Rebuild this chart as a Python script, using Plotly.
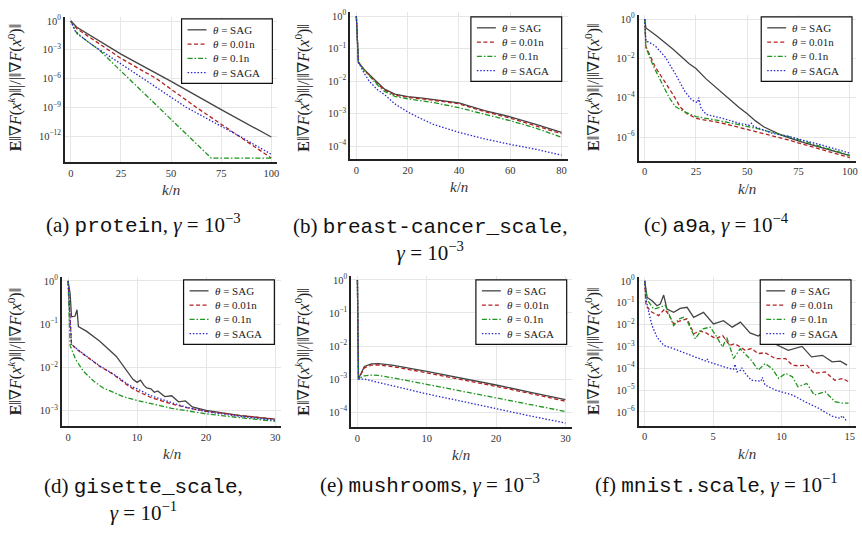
import plotly.graph_objects as go

W, H = 862, 534

SERIES = ["<i>θ</i> = SAG", "<i>θ</i> = 0.01n", "<i>θ</i> = 0.1n", "<i>θ</i> = SAGA"]
COLORS = ["#444444", "#b22222", "#1f961f", "#2b2bcc"]
DASHES = ["solid", "4px,2.5px", "5px,2px,1.5px,2px", "1.5px,1.8px"]

# ---------------- data (log10 of E||grad F(x^k)|| / ||grad F(x^0)||) ----------------
# (a) protein
a_sag_x = [0, 3, 25, 50, 75, 100]
a_sag_y = [0, -0.65, -3.45, -6.3, -9.25, -12.1]
a_r_x = [0, 3, 25, 42.6, 62.5, 84, 100]
a_r_y = [0, -0.8, -3.9, -6.0, -9.0, -12.0, -14.3]
a_g_x = [0, 3, 14, 29, 44, 59, 70, 100]
a_g_y = [0, -1.3, -3.0, -6.0, -9.0, -12.0, -14.3, -14.3]
a_b_x = [0, 2, 4.5, 10, 36, 57.5, 84, 100]
a_b_y = [0, -1.0, -1.5, -2.4, -6.0, -9.0, -12.0, -13.9]

# (b) breast-cancer_scale
b_x = [0, 0.8, 3, 5, 8, 11, 15, 20, 25, 30, 40, 50, 60, 70, 80]
b_sag = [0, -1.42, -1.64, -1.8, -2.04, -2.25, -2.4, -2.48, -2.52, -2.57, -2.67, -2.91, -3.1, -3.33, -3.58]
b_r = [0, -1.42, -1.65, -1.82, -2.07, -2.28, -2.43, -2.5, -2.54, -2.59, -2.7, -2.94, -3.14, -3.37, -3.62]
b_g = [0, -1.42, -1.66, -1.84, -2.1, -2.32, -2.47, -2.55, -2.6, -2.66, -2.82, -3.02, -3.22, -3.45, -3.73]
b_b = [0, -1.42, -1.75, -2.0, -2.25, -2.42, -2.7, -2.95, -3.15, -3.33, -3.58, -3.78, -3.95, -4.1, -4.28]

# (c) a9a
c_sag_x = [0, 0.6, 5.6, 13.7, 21.7, 25, 29.8, 37.9, 46, 50, 54, 58, 62, 66, 70, 78, 100]
c_sag_y = [0, -0.45, -0.84, -1.52, -2.27, -2.52, -3.03, -3.79, -4.5, -4.82, -5.18, -5.48, -5.7, -5.88, -6.03, -6.3, -6.95]
c_r_x = [0, 0.6, 5.1, 10, 14, 17.2, 20.4, 25, 38, 54, 70, 100]
c_r_y = [0, -1.4, -2.43, -3.2, -3.87, -4.46, -4.8, -5.05, -5.3, -5.72, -6.15, -7.05]
c_g_x = [0, 0.6, 4.4, 8.4, 11.7, 14.9, 19, 25, 38, 54, 70, 100]
c_g_y = [0, -1.45, -2.43, -3.28, -3.95, -4.45, -4.7, -4.96, -5.2, -5.55, -5.97, -6.93]
c_b_x = [0, 0.6, 5, 10, 14.9, 19.7, 23, 25.8, 26.3, 27.5, 30, 38, 46, 51, 52, 53, 62, 70, 86, 100]
c_b_y = [0, -1.1, -1.35, -1.93, -2.78, -3.7, -4.12, -4.25, -4.0, -4.55, -4.85, -5.05, -5.3, -5.4, -5.3, -5.45, -5.8, -5.97, -6.4, -6.82]

# (d) gisette_scale
d_sag_x = [0, 0.3, 0.5, 1.0, 1.3, 1.5, 2.7, 4.6, 7.0, 9.4, 10, 10.5, 11, 11.4, 12, 12.5, 13, 14, 15, 16, 17, 18, 20, 22, 25, 28, 30]
d_sag_y = [0, -0.3, -0.83, -0.82, -0.67, -1.06, -1.17, -1.4, -1.75, -2.28, -2.35, -2.3, -2.42, -2.48, -2.5, -2.58, -2.55, -2.68, -2.66, -2.8, -2.78, -2.92, -3.0, -3.05, -3.12, -3.17, -3.2]
d_rb_x = [0, 0.3, 0.5, 1.3, 3.2, 4.6, 6.5, 8.9, 10, 12, 15, 17, 20, 25, 30]
d_r_y = [0, -0.98, -1.47, -1.59, -1.82, -1.98, -2.16, -2.45, -2.55, -2.7, -2.85, -2.93, -3.02, -3.12, -3.2]
d_b_y = [0, -0.98, -1.47, -1.58, -1.8, -1.97, -2.15, -2.42, -2.5, -2.66, -2.82, -2.92, -3.03, -3.14, -3.23]
d_g_x = [0, 0.3, 1.1, 2.2, 3.7, 5.1, 8, 10, 15, 20, 25, 30]
d_g_y = [0, -1.5, -1.82, -2.09, -2.32, -2.48, -2.68, -2.77, -2.95, -3.08, -3.17, -3.25]

# (e) mushrooms
e_x = [0, 0.15, 1, 2, 3, 5, 10, 15, 20, 25, 30]
e_sag = [0, -3.0, -2.62, -2.54, -2.53, -2.58, -2.77, -2.97, -3.18, -3.4, -3.62]
e_r = [0, -3.0, -2.66, -2.58, -2.57, -2.62, -2.81, -3.01, -3.22, -3.44, -3.67]
e_g = [0, -3.0, -2.9, -2.88, -2.89, -2.96, -3.16, -3.37, -3.58, -3.79, -3.98]
e_b = [0, -3.0, -3.0, -3.05, -3.1, -3.2, -3.45, -3.67, -3.9, -4.12, -4.33]

# (f) mnist.scale
f_sag_x = [0, 0.18, 0.54, 0.9, 1.14, 1.39, 1.63, 2.12, 2.6, 3.1, 3.58, 4.3, 5.03, 5.76, 6.4, 7.0, 7.7, 8.3, 8.8, 9.5, 10.5, 11.5, 12.2, 13.0, 13.7, 14.3, 14.8]
f_sag_y = [0, -0.76, -0.91, -1.14, -1.06, -0.65, -1.29, -1.44, -1.26, -1.21, -1.67, -1.44, -1.97, -1.82, -2.12, -1.89, -2.38, -2.53, -2.3, -2.88, -3.18, -3.0, -3.48, -3.41, -3.71, -3.68, -3.86]
f_r_x = [0, 0.1, 0.54, 1.02, 1.46, 1.8, 2.12, 2.5, 3.1, 3.6, 4.0, 4.4, 5.2, 5.7, 6.2, 6.6, 7.35, 7.8, 8.3, 8.8, 9.55, 10.3, 10.8, 11.2, 11.85, 12.4, 13.2, 13.9, 14.5, 14.9]
f_r_y = [0, -1.14, -1.44, -1.59, -1.29, -1.59, -1.97, -1.85, -1.74, -2.42, -2.3, -2.35, -2.65, -2.5, -2.95, -2.88, -3.18, -3.1, -3.33, -3.29, -3.56, -3.56, -3.86, -3.89, -3.86, -4.24, -4.17, -4.55, -4.47, -4.62]
f_g_x = [0, 0.18, 0.66, 1.14, 1.5, 2.12, 2.5, 2.85, 3.1, 3.7, 4.2, 4.8, 5.2, 5.7, 6.0, 6.3, 6.5, 6.98, 7.35, 7.8, 8.3, 8.8, 9.3, 9.8, 10.3, 10.8, 11.2, 11.85, 12.4, 13.2, 13.9, 14.4, 14.9]
f_g_y = [0, -0.86, -1.29, -1.21, -1.11, -2.05, -1.74, -1.67, -1.82, -2.65, -2.2, -2.12, -2.5, -3.03, -2.58, -3.2, -3.56, -3.11, -3.33, -3.64, -4.09, -3.79, -4.0, -4.47, -4.24, -4.39, -4.85, -4.7, -5.23, -5.08, -5.53, -5.6, -5.6]
f_b_x = [0, 0.1, 0.3, 0.54, 0.9, 1.39, 2.12, 2.97, 4.0, 4.5, 4.6, 4.67, 5.4, 6.1, 6.5, 6.6, 6.75, 7.0, 7.1, 7.35, 7.8, 8.5, 8.6, 8.8, 9.55, 10.8, 11.7, 12.7, 13.7, 14.3, 14.45, 14.8]
f_b_y = [0, -0.83, -1.44, -2.05, -2.58, -2.95, -3.11, -3.33, -3.56, -3.68, -3.58, -3.71, -3.86, -4.0, -4.05, -3.82, -4.17, -4.1, -3.98, -4.24, -4.55, -4.6, -4.42, -4.77, -5.0, -5.23, -5.53, -5.83, -6.2, -6.3, -6.18, -6.45]

# tick labels
a_xticks = [0, 25, 50, 75, 100]
b_xticks = [0, 20, 40, 60, 80]
d_xticks = [0, 10, 20, 30]
f_xticks = [0, 5, 10, 15]
a_yexp = [0, -3, -6, -9, -12]
b_yexp = [0, -1, -2, -3, -4]
c_yexp = [0, -2, -4, -6]
d_yexp = [0, -1, -2, -3]
f_yexp = [0, -1, -2, -3, -4, -5, -6]

MONO = "Liberation Mono, DejaVu Sans Mono, monospace"
captions = [
    f"(a) <span style='font-family:{MONO}'>protein</span>, <i>γ</i> = 10<sup>−3</sup>",
    f"(b) <span style='font-family:{MONO}'>breast-cancer_scale</span>,<br><i>γ</i> = 10<sup>−3</sup>",
    f"(c) <span style='font-family:{MONO}'>a9a</span>, <i>γ</i> = 10<sup>−4</sup>",
    f"(d) <span style='font-family:{MONO}'>gisette_scale</span>,<br><i>γ</i> = 10<sup>−1</sup>",
    f"(e) <span style='font-family:{MONO}'>mushrooms</span>, <i>γ</i> = 10<sup>−3</sup>",
    f"(f) <span style='font-family:{MONO}'>mnist.scale</span>, <i>γ</i> = 10<sup>−1</sup>",
]

panels = [
    dict(series=[(a_sag_x, a_sag_y), (a_r_x, a_r_y), (a_g_x, a_g_y), (a_b_x, a_b_y)],
         xd=(65, 278), yd=(13, 159.4), xr=(-3, 103), yr=(-14.73, 0.43), xt=a_xticks, ye=a_yexp,
         leg=(273, 15), ylab=(15, 84), cap=(144, 222)),
    dict(series=[(b_x, b_sag), (b_x, b_r), (b_x, b_g), (b_x, b_b)],
         xd=(351, 569), yd=(8, 156.5), xr=(-2.4, 82.4), yr=(-4.41, 0.13), xt=b_xticks, ye=b_yexp,
         leg=(563, 13), ylab=(303, 84), cap=(431, 222)),
    dict(series=[(c_sag_x, c_sag_y), (c_r_x, c_r_y), (c_g_x, c_g_y), (c_b_x, c_b_y)],
         xd=(640, 858), yd=(11, 158), xr=(-3, 103), yr=(-7.21, 0.21), xt=a_xticks, ye=c_yexp,
         leg=(854, 13), ylab=(594, 84), cap=(718, 222)),
    dict(series=[(d_sag_x, d_sag_y), (d_rb_x, d_r_y), (d_g_x, d_g_y), (d_rb_x, d_b_y)],
         xd=(62, 282), yd=(274.6, 425.6), xr=(-0.9, 30.9), yr=(-3.37, 0.1), xt=d_xticks, ye=d_yexp,
         leg=(275, 278), ylab=(15, 350), cap=(144, 484)),
    dict(series=[(e_x, e_sag), (e_x, e_r), (e_x, e_g), (e_x, e_b)],
         xd=(352, 573), yd=(273.7, 426.5), xr=(-0.9, 30.9), yr=(-4.46, 0.13), xt=d_xticks, ye=b_yexp,
         leg=(568, 278), ylab=(303, 350), cap=(431, 484)),
    dict(series=[(f_sag_x, f_sag_y), (f_r_x, f_r_y), (f_g_x, f_g_y), (f_b_x, f_b_y)],
         xd=(640, 858), yd=(274.8, 425), xr=(-0.45, 15.45), yr=(-6.64, 0.19), xt=f_xticks, ye=f_yexp,
         leg=(853, 278), ylab=(594, 350), cap=(718, 484)),
]

SERIF = "Liberation Serif, Times New Roman, Times, DejaVu Serif, serif"
fig = go.Figure()
layout = dict(width=W, height=H, margin=dict(l=0, r=0, t=0, b=0),
              paper_bgcolor="white", plot_bgcolor="white", showlegend=False,
              font=dict(family=SERIF, color="#222"))
annotations = []
shapes = []

ylabel = "<b>E</b>‖∇<i>F</i>(<i>x</i><sup><i>k</i></sup>)‖|/|‖∇<i>F</i>(<i>x</i><sup>0</sup>)‖"
LEG_W, LEG_H, ROW0, ROWH = 91, 65, 11, 14.4

for i, p in enumerate(panels):
    n = i + 1
    sx = "" if n == 1 else str(n)
    for k, (xs, ys) in enumerate(p["series"]):
        fig.add_trace(go.Scatter(
            x=xs, y=[10 ** v for v in ys], mode="lines", name=SERIES[k],
            line=dict(color=COLORS[k], width=1.3, dash=DASHES[k]),
            xaxis=f"x{sx}", yaxis=f"y{sx}", showlegend=False))
    layout[f"xaxis{sx}"] = dict(
        domain=[p["xd"][0] / W, p["xd"][1] / W], range=list(p["xr"]), anchor=f"y{sx}",
        showline=True, linecolor="#222", linewidth=1.6, mirror=False,
        showgrid=True, gridcolor="#e6e6e6", gridwidth=1, zeroline=False,
        tickmode="array", tickvals=p["xt"], ticktext=[str(t) for t in p["xt"]],
        ticks="", tickfont=dict(size=10.5, family=SERIF, color="#333"), fixedrange=True)
    layout[f"yaxis{sx}"] = dict(
        domain=[1 - p["yd"][1] / H, 1 - p["yd"][0] / H], type="log", range=list(p["yr"]),
        anchor=f"x{sx}", showline=True, linecolor="#222", linewidth=1.6, mirror=False,
        showgrid=True, gridcolor="#e6e6e6", gridwidth=1, zeroline=False,
        tickmode="array", tickvals=[10 ** e for e in p["ye"]],
        ticktext=[f"10<sup>{'−' if e < 0 else ''}{abs(e)}</sup>" for e in p["ye"]],
        ticks="", tickfont=dict(size=10.5, family=SERIF, color="#333"), fixedrange=True)

    # legend box (drawn as in the reference: inside, top right)
    R, T = p["leg"]
    L = R - LEG_W
    shapes.append(dict(type="rect", xref="paper", yref="paper", layer="above",
                       x0=L / W, x1=R / W, y0=1 - (T + LEG_H) / H, y1=1 - T / H,
                       line=dict(color="#111", width=1.2), fillcolor="white"))
    for k in range(4):
        yy = T + ROW0 + ROWH * k
        shapes.append(dict(type="line", xref="paper", yref="paper", layer="above",
                           x0=(L + 6) / W, x1=(L + 25) / W, y0=1 - yy / H, y1=1 - yy / H,
                           line=dict(color=COLORS[k], width=1.3, dash=DASHES[k])))
        annotations.append(dict(text=SERIES[k], x=(L + 29) / W, y=1 - yy / H,
                                xref="paper", yref="paper", showarrow=False,
                                xanchor="left", yanchor="middle",
                                font=dict(family=SERIF, size=11, color="#222")))
    # y label
    annotations.append(dict(text=ylabel, x=p["ylab"][0] / W, y=1 - p["ylab"][1] / H,
                            xref="paper", yref="paper", textangle=-90, showarrow=False,
                            xanchor="center", yanchor="middle",
                            font=dict(family=SERIF, size=16, color="#222")))
    # x label
    xc = (p["xd"][0] + p["xd"][1]) / 2
    xl_y = p["yd"][1] + 28
    annotations.append(dict(text="<i>k</i>/<i>n</i>", x=xc / W, y=1 - xl_y / H,
                            xref="paper", yref="paper", showarrow=False,
                            xanchor="center", yanchor="middle",
                            font=dict(family=SERIF, size=15, color="#333")))
    # caption
    two = "<br>" in captions[i]
    annotations.append(dict(text=captions[i], x=p["cap"][0] / W, y=1 - p["cap"][1] / H,
                            xref="paper", yref="paper", showarrow=False,
                            xanchor="center", yanchor="top" if two else "middle",
                            yshift=12 if two else 0,
                            font=dict(family=SERIF, size=21, color="#111")))

layout["annotations"] = annotations
layout["shapes"] = shapes
fig.update_layout(**layout)
fig.write_html("out.html")
